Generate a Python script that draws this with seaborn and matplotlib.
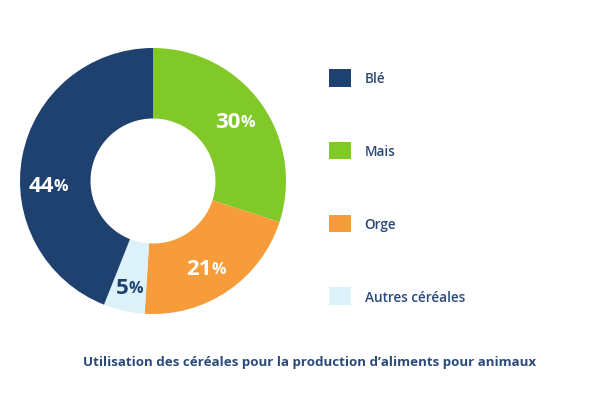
import numpy as np
import matplotlib
matplotlib.use("Agg")
import matplotlib.pyplot as plt
import seaborn as sns
from matplotlib.patches import Patch

# Data
categories = ["Blé", "Mais", "Orge", "Autres céréales"]
shares = [44, 30, 21, 5]
colors = ["#1f4170", "#80c928", "#f79c3b", "#ddf2f8"]
label_colors = ["white", "white", "white", "#1f4170"]
title = "Utilisation des céréales pour la production d’aliments pour animaux"

sns.set_theme(style="white")
plt.rcParams["font.family"] = ["Open Sans", "DejaVu Sans"]
text_color = "#2b4a7a"

fig = plt.figure(figsize=(6.01, 4.10), dpi=100)
ax = fig.add_axes([20 / 601, 95 / 410, 266 / 601, 266 / 410])

# pie drawn clockwise from top, starting with Mais, Blé last
order = [1, 2, 3, 0]
vals = [shares[i] for i in order]
cols = [colors[i] for i in order]
wedges, _ = ax.pie(vals, colors=cols, startangle=90, counterclock=False,
                   radius=1.0, wedgeprops=dict(width=0.53, linewidth=0))
ax.set_xlim(-1, 1)
ax.set_ylim(-1, 1)
ax.set_aspect("equal")
ax.axis("off")

# percentage labels
label_r = [0.76, 0.77, 0.82, 0.79]
angle_shift = [0, -3, 0, 13]
total = sum(vals)
cum = 0
for k, i in enumerate(order):
    mid = cum + vals[k] / 2
    cum += vals[k]
    ang = np.deg2rad(90 - mid / total * 360 + angle_shift[k])
    x, y = label_r[k] * np.cos(ang), label_r[k] * np.sin(ang)
    t = ax.annotate(str(shares[i]), xy=(x, y), xytext=(-5, 0), textcoords="offset points",
                    ha="center", va="center", fontsize=16, fontweight="bold",
                    color=label_colors[i])
    ax.annotate("%", xy=(1, 0), xycoords=t, xytext=(-0.3, 1.4), textcoords="offset points",
                ha="left", va="bottom", fontsize=11.5, fontweight="bold",
                color=label_colors[i])

# legend
handles = [Patch(facecolor=c, edgecolor="none") for c in colors]
leg = fig.legend(handles, categories, loc="upper left",
                 bbox_to_anchor=(329 / 601, 1 - 70 / 410), frameon=False,
                 borderpad=0, borderaxespad=0, fontsize=9.8,
                 handlelength=1.62, handleheight=1.62, labelspacing=4.05,
                 handletextpad=1.0)
for txt in leg.get_texts():
    txt.set_color(text_color)
    txt.set_fontweight("semibold")

fig.text(310 / 601, 1 - 363 / 410, title, ha="center", va="center",
         fontsize=9.6, fontweight="bold", color=text_color)

fig.savefig("out.png", dpi=100)
